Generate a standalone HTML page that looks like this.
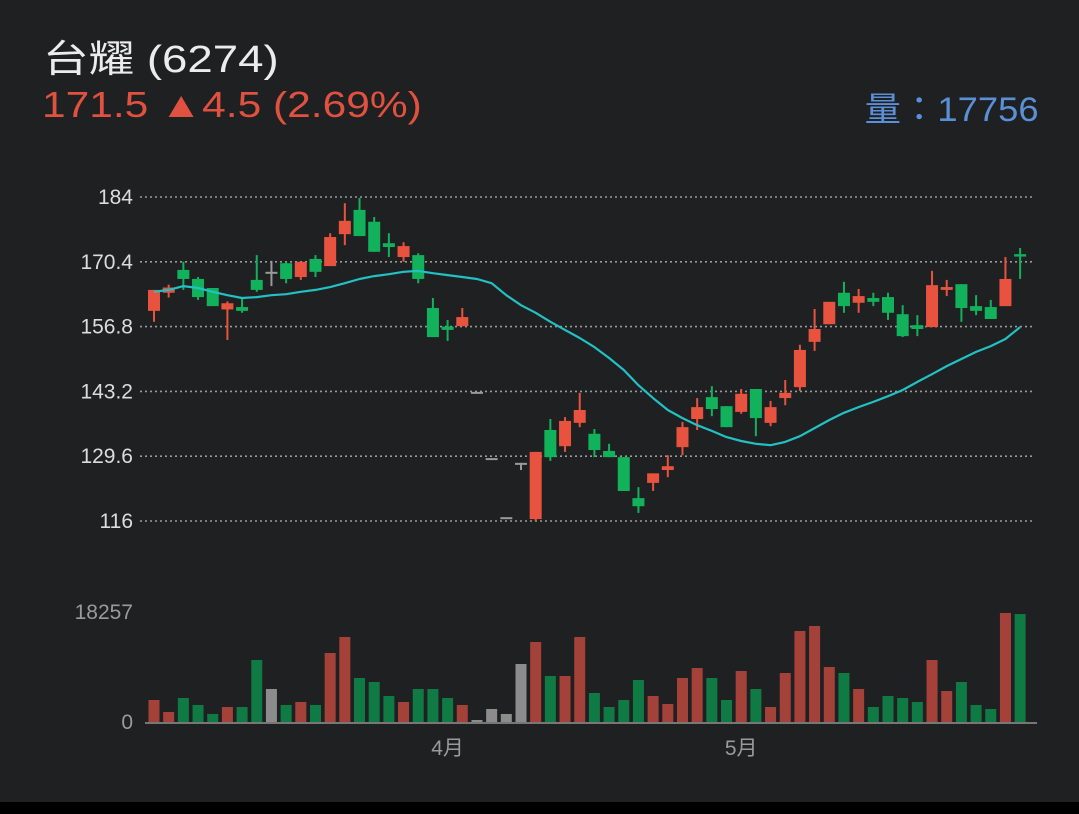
<!DOCTYPE html>
<html><head><meta charset="utf-8">
<style>
html,body{margin:0;padding:0;background:#1f2022;}
body{width:1079px;height:814px;overflow:hidden;position:relative;font-family:"Liberation Sans","Noto Sans CJK TC",sans-serif;}
.t{position:absolute;white-space:nowrap;}
</style></head><body>
<div class="t" style="left:43px;top:28px;font-size:38px;color:#ececec;transform:scaleX(1.2);transform-origin:left top;">台耀 (6274)</div>
<div class="t" style="left:42px;top:84px;font-size:36px;color:#e0523f;transform:scaleX(1.18);transform-origin:left top;">171.5 ▲4.5 (2.69%)</div>
<div class="t" style="right:40px;top:82px;font-size:34px;color:#5b8fd6;transform:scaleX(1.07);transform-origin:right top;">量：17756</div>
<div style="position:absolute;left:0;top:802px;width:1079px;height:12px;background:#000;"></div>
<svg id="chart" width="1079" height="814" style="position:absolute;left:0;top:0" xmlns="http://www.w3.org/2000/svg"></svg>
<script>
const priceTicks=[116,129.6,143.2,156.8,170.4,184];
const monthLabels=["4月","5月"];
const monthIdx=[20,40];
const opens=[160.1,163.9,168.7,166.8,164.9,160.4,160.9,166.6,168.3,170.1,167.2,171,169.5,176.2,181.3,178.8,174.3,171.4,171.8,160.7,156.8,156.9,143.1,129.2,116.8,128.2,116.4,135.1,131.7,136.6,134.3,130.7,129.4,120.8,124,126.7,131.5,137.4,142,140.1,138.9,143.7,136.6,141.8,144.1,153.6,157.3,163.9,161.8,162.8,163,159.4,157.1,156.7,164.5,165.7,161.1,160.9,161.1,172];
const highs=[164.5,165.6,170.4,167.2,164.9,162.1,163,171.8,170.6,170.4,170.4,171.8,176.4,182.7,183.8,179.8,176.4,174.5,172.2,162.8,158.2,160.7,143.1,129.2,116.8,128.2,130.5,137.4,137.8,142.9,135.3,132.2,129.4,123.1,126,129.8,136.8,141.8,144.3,140.1,143.7,143.7,141.2,145.6,153,160.5,162,166.2,164.7,163.9,163.9,161.3,159.2,168.5,166.6,165.7,163.4,162.4,171.4,173.3];
const lows=[157.8,162.9,164.5,162.4,161.1,154,159.7,164.1,165.3,165.9,166.6,167.2,169.5,173.9,175.8,172.5,171.4,170.4,165.9,154.6,153.8,156.9,143.1,129.2,116.8,126.7,116,128.6,130.5,135.7,129.4,129.4,122.3,117.7,122.3,125.2,129.8,135.1,138,135.7,138.5,133.8,135.9,140.3,143.3,151.7,157.3,159.7,159.7,161.1,158.2,154.6,154.8,156.7,163.2,157.8,159.2,158.4,161.1,166.8];
const closes=[164.5,165,166.8,163,161.1,161.7,160.1,164.5,168.3,166.8,170.4,168.3,175.6,179,175.8,172.5,173.5,173.7,166.8,154.6,156.1,158.8,143.1,129.2,116.8,128.2,130.5,129.4,137,139.3,130.9,129.4,122.3,119.1,126,127.5,135.7,139.9,139.5,135.7,142.7,137.6,139.9,142.9,151.9,156.3,162,161.1,163.2,162,159.7,154.8,156.3,165.5,165.1,160.7,160.1,158.4,166.8,171.5];
const ma=[164.1,164.5,165.3,164.9,164.1,163.4,162.8,163,163.4,163.6,164.1,164.5,165.1,165.9,166.8,167.4,167.8,168.3,168.5,168,167.6,167.2,166.8,165.9,163.4,161.3,159.7,157.8,156.1,154.4,152.5,150.2,147.7,144.5,141.8,139.3,137.6,136.1,134.9,133.6,132.8,132.2,131.9,132.6,133.8,135.5,137.2,138.7,139.9,141,142.2,143.5,145.2,146.8,148.5,150,151.5,152.7,154.2,156.7];
const volumes=[3620,1650,3950,2800,1320,2470,2470,10200,5430,2800,3290,2800,11350,13980,7240,6580,4280,3290,5430,5430,3950,2800,330,2140,1320,9540,13160,7570,7570,13980,4770,2470,3620,6910,4280,2960,7240,8880,7240,3620,8390,5430,2470,8060,14970,15790,9050,8060,5430,2470,4280,3950,3290,10200,5100,6580,2800,2140,17930,17756];
const volMax=18257;

const svg=document.getElementById('chart');
const NS='http://www.w3.org/2000/svg';
const x=i=>154+i*14.68;
const y=p=>521-(p-116)*(324/68);
const vy=v=>722-v/volMax*111;
function mk(tag,attrs){const e=document.createElementNS(NS,tag);for(const k in attrs)e.setAttribute(k,attrs[k]);svg.appendChild(e);return e;}

priceTicks.forEach(p=>{
  const g=mk('line',{x1:140,x2:1034,y1:y(p),y2:y(p),stroke:'#9a9a9a','stroke-width':1.6,'stroke-dasharray':'2 3'});
  
  
  const t=mk('text',{x:133,y:y(p)+7,'text-anchor':'end','font-size':21,fill:'#dcdcdc','font-family':'Liberation Sans, sans-serif'});
  t.textContent=String(p);
  
  
});
const vl=mk('text',{x:133,y:619,'text-anchor':'end','font-size':21,fill:'#9a9a9a','font-family':'Liberation Sans, sans-serif'});
vl.textContent=String(volMax);


const v0=mk('text',{x:133,y:729,'text-anchor':'end','font-size':21,fill:'#9a9a9a','font-family':'Liberation Sans, sans-serif'});
v0.textContent='0';



const RED='#e8533f',GREEN='#12b25c',GRAY='#9a9a9a';
const VRED='#a4423a',VGREEN='#0f7a44',VGRAY='#8c8c8c';
opens.forEach((o,i)=>{
  const c=closes[i];
  let col,vcol;
  if(highs[i]===lows[i]||Math.abs(o-c)<0.01&&i>=22&&i<=25){col=GRAY;vcol=VGRAY;}
  else if(c>o){col=RED;vcol=VRED;}
  else if(c<o){col=GREEN;vcol=VGREEN;}
  else{col=GRAY;vcol=VGRAY;}
  const cx=x(i);
  const w=mk('line',{x1:cx,x2:cx,y1:y(highs[i]),y2:y(lows[i]),stroke:col,'stroke-width':2});
  
  
  const top=Math.min(y(o),y(c)),h=Math.max(2,Math.abs(y(o)-y(c)));
  const b=mk('rect',{x:cx-6,y:top,width:12,height:h,fill:col});
  
  
  const vb=mk('rect',{x:cx-5.5,y:vy(volumes[i]),width:11,height:722-vy(volumes[i]),fill:vcol});
  
  
});
const pts=ma.map((m,i)=>x(i).toFixed(1)+','+y(m).toFixed(1)).join(' ');
const ml=mk('polyline',{points:pts,fill:'none',stroke:'#22c1c3','stroke-width':2.2,'stroke-linejoin':'round'});


const ax=mk('line',{x1:145,x2:1037,y1:723,y2:723,stroke:'#777','stroke-width':2});


monthLabels.forEach((m,i)=>{
  const t=mk('text',{x:x(monthIdx[i]),y:755,'text-anchor':'middle','font-size':21,fill:'#9a9a9a','font-family':'Liberation Sans, Noto Sans CJK TC, sans-serif'});
  t.textContent=m;
  
  
});
</script>
</body></html>
